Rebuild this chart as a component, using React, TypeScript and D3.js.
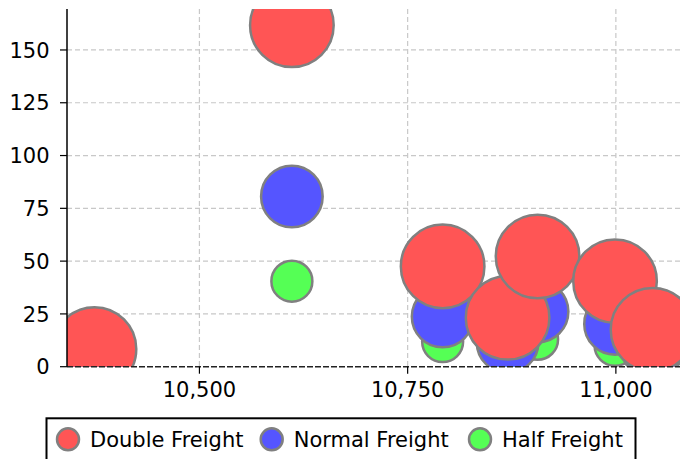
import React from "react";
import * as d3 from "d3";

const xValues = [10374, 10611, 10792, 10870, 10906, 10999, 11044];
const doubleFreight = [8.4, 161.7, 47.5, 23.2, 52.2, 40.5, 17.5];
const normalFreight = [4.2, 80.6, 23.75, 11.6, 26.1, 20.25, 8.75];
const halfFreight = [2.1, 40.5, 11.9, 5.8, 13.0, 10.1, 4.4];
const seriesNames = ["Double Freight", "Normal Freight", "Half Freight"];
const xTicks = [10500, 10750, 11000];
const yTicks = [0, 25, 50, 75, 100, 125, 150];

const W = 680;
const H = 459;
const left = 67;
const right = 680;
const top = 9;
const bottom = 366.7;

const colors = ["#ff5555", "#5555ff", "#55ff55"];
const radii = [41.8, 30.8, 20.5];
const FONT = "DejaVu Sans";
const FS = 21;

export default function App() {
  const x = d3.scaleLinear().domain([10341, 11077]).range([left, right]);
  const y = d3.scaleLinear().domain([0, 169.4]).range([bottom, top]);
  const fmt = d3.format(",");
  const series = [doubleFreight, normalFreight, halfFreight];
  const drawOrder = [2, 1, 0];
  const legendX = [68, 271.7, 480];

  return (
    <svg
      width={W}
      height={H}
      style={{ position: "absolute", left: 0, top: 0, background: "#fff" }}
      fontFamily={FONT}
    >
      <defs>
        <clipPath id="plot">
          <rect x={left} y={top} width={right - left} height={bottom - top} />
        </clipPath>
      </defs>
      {yTicks
        .filter((t) => t !== 0)
        .map((t) => (
          <line
            key={"gy" + t}
            x1={left}
            x2={right}
            y1={y(t)}
            y2={y(t)}
            stroke="#c8c8c8"
            strokeWidth={1.2}
            strokeDasharray="5,3"
          />
        ))}
      {xTicks.map((t) => (
        <line
          key={"gx" + t}
          x1={x(t)}
          x2={x(t)}
          y1={top}
          y2={bottom}
          stroke="#c8c8c8"
          strokeWidth={1.2}
          strokeDasharray="5,3"
        />
      ))}
      <g clipPath="url(#plot)">
        {drawOrder.map((si) =>
          xValues.map((xv, i) => (
            <circle
              key={si + "-" + i}
              cx={x(xv)}
              cy={y(series[si][i])}
              r={radii[si]}
              fill={colors[si]}
              stroke="#808080"
              strokeWidth={2.5}
            />
          ))
        )}
      </g>
      <line
        x1={left}
        x2={right}
        y1={y(0)}
        y2={y(0)}
        stroke="#222"
        strokeWidth={1.5}
        strokeDasharray="6,2"
      />
      <line x1={left} x2={left} y1={top} y2={bottom} stroke="#000" strokeWidth={1.5} />
      {yTicks.map((t) => (
        <g key={"yt" + t}>
          <line x1={left - 7} x2={left} y1={y(t)} y2={y(t)} stroke="#000" strokeWidth={1.2} />
          <text x={49.5} y={y(t) + 7.6} fontSize={FS} textAnchor="end" fill="#000">
            {t}
          </text>
        </g>
      ))}
      {xTicks.map((t) => (
        <g key={"xt" + t}>
          <line x1={x(t)} x2={x(t)} y1={bottom} y2={bottom + 7} stroke="#000" strokeWidth={1.2} />
          <text x={x(t)} y={396.7} fontSize={FS} textAnchor="middle" fill="#000">
            {fmt(t)}
          </text>
        </g>
      ))}
      <rect x={46.5} y={418.3} width={589} height={60} fill="#fff" stroke="#000" strokeWidth={2} />
      {seriesNames.map((name, i) => (
        <g key={name}>
          <circle cx={legendX[i]} cy={439.3} r={11} fill={colors[i]} stroke="#808080" strokeWidth={2.5} />
          <text x={legendX[i] + 22} y={446.7} fontSize={FS} fill="#000">
            {name}
          </text>
        </g>
      ))}
    </svg>
  );
}
